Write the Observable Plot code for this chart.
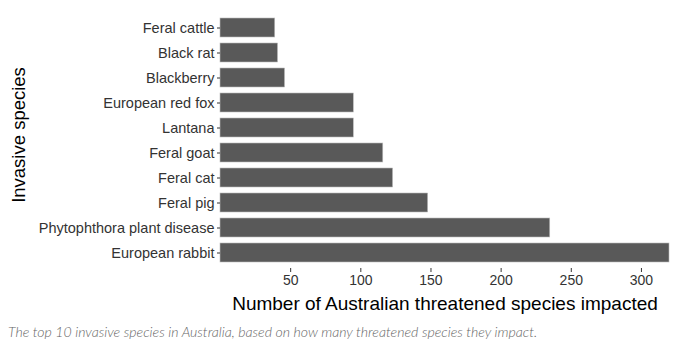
<!DOCTYPE html>
<html>
<head>
<meta charset="utf-8">
<script src="https://cdn.jsdelivr.net/npm/d3@7"></script>
<script src="https://cdn.jsdelivr.net/npm/@observablehq/plot@0.6"></script>
<style>
  body { margin: 0; background: #fff; }
  #chart { width: 682px; }
  .caption { font-family: Lato, "Open Sans", sans-serif; font-style: italic; font-weight: 300; font-size: 14.1px; color: #666; margin: 7px 0 0 8px; }
</style>
</head>
<body>
<div id="chart"></div>
<script>
const species = ["Feral cattle","Black rat","Blackberry","European red fox","Lantana","Feral goat","Feral cat","Feral pig","Phytophthora plant disease","European rabbit"];
const impacted = [39, 41, 46, 95, 95, 116, 123, 148, 235, 320];
const xTicks = [50, 100, 150, 200, 250, 300];
const xTitle = "Number of Australian threatened species impacted";
const yTitle = "Invasive species";
const captionText = "The top 10 invasive species in Australia, based on how many threatened species they impact.";

const data = species.map((s, i) => ({species: s, value: impacted[i]}));

const plot = Plot.plot({
  width: 682,
  height: 316,
  marginTop: 11,
  marginBottom: 48,
  marginLeft: 220,
  marginRight: 13,
  style: {fontFamily: "'Liberation Sans', Arial, sans-serif", fontSize: "14px", color: "#333"},
  x: {domain: [0, 320], ticks: xTicks, label: null},
  y: {domain: species, padding: 0.26, label: null},
  marks: [
    Plot.barX(data, {x: "value", y: "species", fill: "#595959", stroke: "#bbb", strokeWidth: 0.6}),
    Plot.axisX({ticks: xTicks, tickSize: 4, tickPadding: 3, fontSize: 14, label: null, color: "#333"}),
    Plot.axisY({tickSize: 3, tickPadding: 3, fontSize: 14.5, label: null, color: "#333"}),
    Plot.text([xTitle], {frameAnchor: "bottom", fontSize: 19, fill: "#000", text: d => d, lineAnchor: "bottom"})
  ]
});
document.getElementById("chart").appendChild(plot);

const svg = d3.select(plot);
svg.selectAll("g[aria-label='text'] text").attr("transform", null).attr("x", 444.5).attr("y", 309);
svg.append("text")
  .attr("transform", "translate(25,135) rotate(-90)")
  .attr("text-anchor", "middle")
  .attr("font-size", 18.5)
  .attr("fill", "#000")
  .text(yTitle);

const cap = document.createElement("div");
cap.className = "caption";
cap.textContent = captionText;
document.getElementById("chart").appendChild(cap);
</script>
</body>
</html>
